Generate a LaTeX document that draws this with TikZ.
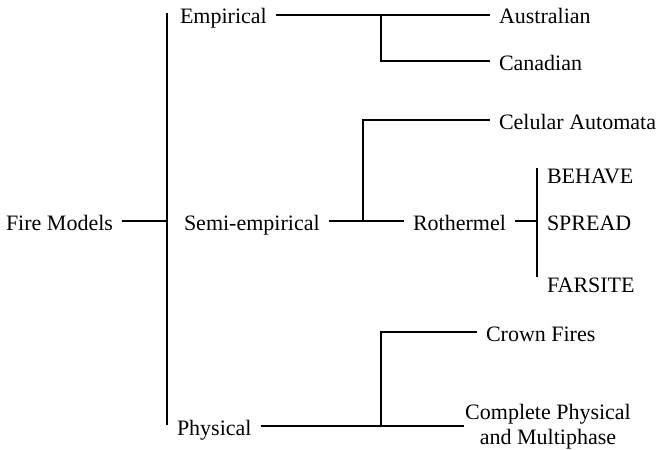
\documentclass[tikz,border=0pt]{standalone}
\usepackage{fontspec}
\setmainfont{Liberation Serif}
\usepackage{tikz}
\usetikzlibrary{positioning}

\tikzset{lbl/.style={anchor=west, inner xsep=4pt, inner ysep=0pt, text height=9pt, text depth=0pt}}

\begin{document}
\begin{tikzpicture}[x=0.5pt,y=-0.5pt,line width=1pt,font=\fontsize{11}{12.5}\selectfont]
	\useasboundingbox (0,0) rectangle (657,449);
	%Radice
	\node [lbl] (fire) at (-3,221) {Fire Models};
	\coordinate (top) at (167,13);
	\coordinate (bot) at (167,425);
	\coordinate (j0) at (167,221);
	\draw (top) -- (bot);
	\draw (fire.east) -- (j0);
	%Empirical
	\node [lbl] (emp) at (171,15) {Empirical};
	\node [lbl] (aus) at (490,15) {Australian};
	\node [lbl] (can) at (490,61) {Canadian};
	\coordinate (j1) at (381,15);
	\draw (emp.east) -- (aus.west);
	\draw (j1) |- (can.west);
	%Semi-empirical
	\node [lbl] (semi) at (175,221) {Semi-empirical};
	\node [lbl] (roth) at (404,221) {Rothermel};
	\node [lbl] (cel) at (490,120) {Celular Automata};
	\coordinate (j2) at (363,221);
	\draw (semi.east) -- (roth.west);
	\draw (j2) |- (cel.west);
	%Rothermel e derivati
	\node [lbl] (beh) at (538,174) {BEHAVE};
	\node [lbl] (spr) at (538,221) {SPREAD};
	\node [lbl] (far) at (538,283) {FARSITE};
	\coordinate (rtop) at (537,168);
	\coordinate (rbot) at (537,277);
	\coordinate (j3) at (537,221);
	\draw (roth.east) -- (j3);
	\draw (rtop) -- (rbot);
	%Physical
	\node [lbl] (phys) at (168,426) {Physical};
	\node [lbl] (crown) at (477,332) {Crown Fires};
	\node [anchor=north, align=center, inner sep=0pt] (comp) at (548,403) {Complete Physical\\and Multiphase};
	\coordinate (j4) at (381,426);
	\draw (phys.east) -- (phys.east -| comp.west);
	\draw (j4) |- (crown.west);
\end{tikzpicture}
\end{document}
